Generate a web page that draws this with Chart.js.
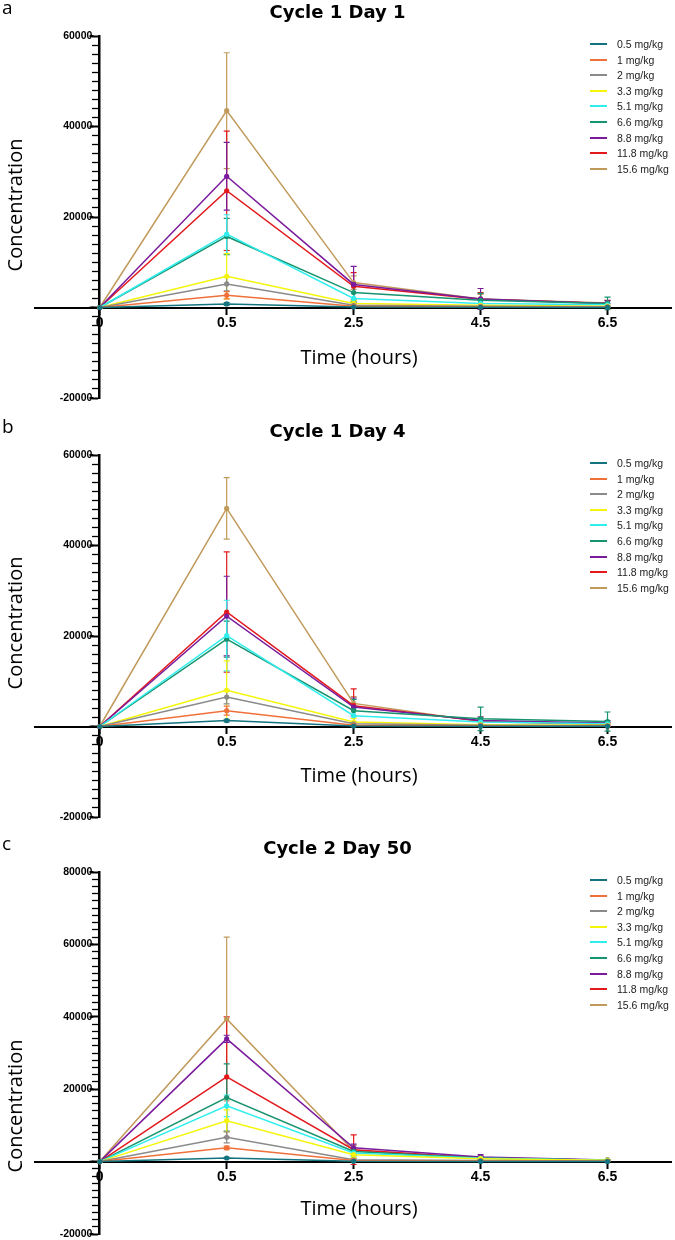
<!DOCTYPE html>
<html>
<head>
<meta charset="utf-8">
<script src="https://cdn.jsdelivr.net/npm/chart.js@4.4.1/dist/chart.umd.min.js"></script>
<style>
  html, body { margin:0; padding:0; background:#fff; overflow:hidden; }
  #wrap { position:relative; width:675px; height:1240px; overflow:hidden; background:#fff; }
  .panel { position:absolute; left:0; width:675px; height:410px; }
  .panel canvas { position:absolute; left:0; top:0; }
  .letter { position:absolute; left:2px; font:19px "Open Sans", sans-serif; line-height:19px; color:#000; }
  .title { position:absolute; left:0; width:675px; text-align:center; font:bold 18px "DejaVu Sans", sans-serif; line-height:20px; color:#000; }
  .ytitle { position:absolute; width:200px; margin-left:-100px; text-align:center; font:20px "Open Sans", sans-serif; line-height:24px; margin-top:-12px; transform:rotate(-90deg); color:#000; }
  .xtitle { position:absolute; width:200px; margin-left:-100px; text-align:center; font:20px "Open Sans", sans-serif; line-height:24px; margin-top:-12px; color:#000; }
  .legend { position:absolute; left:590px; }
  .lrow { position:absolute; left:0; height:14px; width:85px; white-space:nowrap; }
  .lline { position:absolute; left:0; top:6px; width:17px; height:2px; }
  .ltext { position:absolute; left:27px; top:0; font:10.5px "Liberation Sans", Arial, sans-serif; line-height:14px; color:#222; }
</style>
</head>
<body>
<div id="wrap"></div>
<script>
// ---------- data ----------
const times = ['0', '0.5', '2.5', '4.5', '6.5'];
const doses = ['0.5 mg/kg', '1 mg/kg', '2 mg/kg', '3.3 mg/kg', '5.1 mg/kg', '6.6 mg/kg', '8.8 mg/kg', '11.8 mg/kg', '15.6 mg/kg'];
const colors = ['#13737f', '#f0703a', '#8a8a8a', '#f5f50a', '#30eeee', '#16936f', '#7a1a9c', '#e3191c', '#c19a5b'];

// Cycle 1 Day 1 (means, then SD)
const a_05  = [0,   800,  100,   50,   20];
const a_1   = [0,  2700,  300,  150,   80];
const a_2   = [0,  5200,  500,  250,  150];
const a_33  = [0,  6900,  900,  500,  300];
const a_51  = [0, 16200, 2000,  900,  600];
const a_66  = [0, 15700, 3300, 1600,  900];
const a_88  = [0, 29000, 5100, 1900,  900];
const a_118 = [0, 25800, 4700, 1800,  900];
const a_156 = [0, 43500, 5500, 1900, 1000];
const a_sd05  = [0,   300,   50,   30,   20];
const a_sd1   = [0,   800,  150,  100,   50];
const a_sd2   = [0,  1500,  300,  150,  100];
const a_sd33  = [0,  5000,  600,  300,  200];
const a_sd51  = [0,  4300, 1200,  600,  400];
const a_sd66  = [0,  4000, 2000, 1500, 1400];
const a_sd88  = [0,  7500, 4000, 2300,  600];
const a_sd118 = [0, 13200, 3000, 1500,  700];
const a_sd156 = [0, 12800, 1500, 1000,  500];

// Cycle 1 Day 4
const b_05  = [0,  1300,  100,   50,   30];
const b_1   = [0,  3500,  300,  150,   80];
const b_2   = [0,  6500,  600,  300,  150];
const b_33  = [0,  8000, 1000,  400,  250];
const b_51  = [0, 20100, 2400, 1000,  600];
const b_66  = [0, 19300, 3500, 1700, 1100];
const b_88  = [0, 24400, 4300, 1300,  800];
const b_118 = [0, 25300, 4600, 1200,  500];
const b_156 = [0, 48200, 5100, 1100,  400];
const b_sd05  = [0,   300,   50,   30,   20];
const b_sd1   = [0,  1000,  150,   80,   50];
const b_sd2   = [0,  1500,  300,  150,  100];
const b_sd33  = [0,  6500,  800,  300,  200];
const b_sd51  = [0,  7800, 1500,  900,  500];
const b_sd66  = [0,  4000, 2500, 2600, 2100];
const b_sd88  = [0,  8800, 2000,  800,  500];
const b_sd118 = [0, 13300, 3700,  900,  400];
const b_sd156 = [0,  6800, 1500,  600,  300];

// Cycle 2 Day 50
const c_05  = [0,  1000,  100,   50,   30];
const c_1   = [0,  3800,  300,  150,   80];
const c_2   = [0,  6700,  500,  300,  150];
const c_33  = [0, 11300, 1900,  800,  400];
const c_51  = [0, 15400, 2400,  900,  400];
const c_66  = [0, 17700, 2800, 1000,  400];
const c_88  = [0, 33900, 3800, 1300,  450];
const c_118 = [0, 23400, 3300, 1000,  400];
const c_156 = [0, 39400, 3000, 1000,  400];
const c_sd05  = [0,   200,   50,   20,   10];
const c_sd1   = [0,   500,  100,   50,   30];
const c_sd2   = [0,  1500,  300,  100,   50];
const c_sd33  = [0,  3000,  800,  300,  100];
const c_sd51  = [0,  3000,  800,  300,  100];
const c_sd66  = [0,  9300, 1000,  400,  150];
const c_sd88  = [0,  1000, 1000,  600,  100];
const c_sd118 = [0, 16600, 4100,  500,  150];
const c_sd156 = [0, 22600, 1500,  400,  150];

const titles = ['Cycle 1 Day 1', 'Cycle 1 Day 4', 'Cycle 2 Day 50'];
const letters = ['a', 'b', 'c'];
const yMaxes = [60000, 60000, 80000];
const yMin = -20000;
const yMajor = 20000;
const yMinor = 2000;

// ---------- layout ----------
const panels = [
  { top: 0,   means: [a_05,a_1,a_2,a_33,a_51,a_66,a_88,a_118,a_156], sds: [a_sd05,a_sd1,a_sd2,a_sd33,a_sd51,a_sd66,a_sd88,a_sd118,a_sd156], yTitle: 205, xTitle: 357 },
  { top: 419, means: [b_05,b_1,b_2,b_33,b_51,b_66,b_88,b_118,b_156], sds: [b_sd05,b_sd1,b_sd2,b_sd33,b_sd51,b_sd66,b_sd88,b_sd118,b_sd156], yTitle: 204, xTitle: 356 },
  { top: 836, means: [c_05,c_1,c_2,c_33,c_51,c_66,c_88,c_118,c_156], sds: [c_sd05,c_sd1,c_sd2,c_sd33,c_sd51,c_sd66,c_sd88,c_sd118,c_sd156], yTitle: 270, xTitle: 372 }
];

const wrap = document.getElementById('wrap');

function makeErrorBars(sds) {
  return {
    id: 'errbars',
    beforeDatasetsDraw(chart) {
      const ctx = chart.ctx;
      const xs = chart.scales.x, ys = chart.scales.y;
      ctx.save();
      for (let i = sds.length - 1; i >= 0; i--) {
        const ds = chart.data.datasets[i];
        ctx.strokeStyle = colors[i];
        ctx.lineWidth = 1.2;
        ds.data.forEach((p, j) => {
          const sd = sds[i][j];
          if (!sd) return;
          const x = xs.getPixelForValue(p.x);
          const y1 = ys.getPixelForValue(p.y + sd);
          const y2 = ys.getPixelForValue(p.y - sd);
          ctx.beginPath();
          ctx.moveTo(x, y1); ctx.lineTo(x, y2);
          ctx.moveTo(x - 3, y1); ctx.lineTo(x + 3, y1);
          ctx.moveTo(x - 3, y2); ctx.lineTo(x + 3, y2);
          ctx.stroke();
        });
      }
      ctx.restore();
    },
    afterDraw(chart) {
      // lengthen the major y ticks a little (minor ones stay short)
      const ctx = chart.ctx;
      const xs = chart.scales.x, ys = chart.scales.y;
      const x0 = xs.getPixelForValue(0) - 1.25 - 6;
      ctx.save();
      ctx.strokeStyle = '#000';
      ctx.lineWidth = 2;
      ys.ticks.forEach(t => {
        if (t.value % yMajor !== 0) return;
        const y = ys.getPixelForValue(t.value);
        ctx.beginPath(); ctx.moveTo(x0 + 1, y); ctx.lineTo(x0 - 3, y); ctx.stroke();
      });
      ctx.restore();
    }
  };
}

panels.forEach((p, k) => {
  const div = document.createElement('div');
  div.className = 'panel';
  div.style.top = p.top + 'px';
  wrap.appendChild(div);

  const cv = document.createElement('canvas');
  cv.width = 675; cv.height = 410;
  cv.style.width = '675px'; cv.style.height = '410px';
  div.appendChild(cv);

  const letter = document.createElement('div');
  letter.className = 'letter'; letter.style.top = '-2px'; letter.textContent = letters[k];
  div.appendChild(letter);

  const title = document.createElement('div');
  title.className = 'title'; title.style.top = '2px'; title.textContent = titles[k];
  div.appendChild(title);

  const yt = document.createElement('div');
  yt.className = 'ytitle'; yt.style.left = '15px'; yt.style.top = p.yTitle + 'px'; yt.textContent = 'Concentration';
  div.appendChild(yt);

  const xt = document.createElement('div');
  xt.className = 'xtitle'; xt.style.left = '359px'; xt.style.top = p.xTitle + 'px'; xt.textContent = 'Time (hours)';
  div.appendChild(xt);

  const lg = document.createElement('div');
  lg.className = 'legend'; lg.style.top = '37px';
  doses.forEach((d, i) => {
    const row = document.createElement('div');
    row.className = 'lrow'; row.style.top = (i * 15.6) + 'px';
    const ln = document.createElement('div'); ln.className = 'lline'; ln.style.background = colors[i];
    const tx = document.createElement('div'); tx.className = 'ltext'; tx.textContent = d;
    row.appendChild(ln); row.appendChild(tx); lg.appendChild(row);
  });
  div.appendChild(lg);

  const datasets = doses.map((d, i) => ({
    label: d,
    data: p.means[i].map((v, j) => ({ x: j, y: v })),
    borderColor: colors[i],
    backgroundColor: colors[i],
    borderWidth: 1.5,
    pointRadius: 2.6,
    pointBorderWidth: 0,
    pointBackgroundColor: colors[i],
    tension: 0
  }));

  new Chart(cv, {
    type: 'line',
    data: { datasets },
    options: {
      responsive: false,
      animation: false,
      events: [],
      layout: { padding: { left: 35, right: 3, top: 36, bottom: 12 } },
      plugins: { legend: { display: false }, tooltip: { enabled: false }, title: { display: false } },
      scales: {
        x: {
          type: 'linear', min: -0.51, max: 4.5,
          position: { y: 0 },
          afterBuildTicks: (s) => { s.ticks = times.map((t, i) => ({ value: i })); },
          ticks: {
            autoSkip: false, maxRotation: 0, padding: 1,
            callback: (v) => times[v],
            color: '#000',
            font: { family: 'Liberation Sans', size: 14, weight: 'bold' }
          },
          grid: { drawOnChartArea: false, color: '#000', tickLength: 6, tickWidth: 2 },
          border: { display: true, color: '#000', width: 2 }
        },
        y: {
          type: 'linear', min: yMin, max: yMaxes[k],
          position: { x: 0 },
          ticks: {
            stepSize: yMinor, maxTicksLimit: 200, autoSkip: false,
            callback: (v) => (v % yMajor === 0 && v !== 0) ? (v + '\u2002\u2009') : '',
            color: '#000',
            font: { family: 'Liberation Sans', size: 10.5, weight: 'bold' }
          },
          grid: {
            drawOnChartArea: false, color: '#000', tickLength: 6,
            tickWidth: (c) => (c.tick && c.tick.value % yMajor === 0) ? 2 : 1.3
          },
          border: { display: true, color: '#000', width: 2.5 }
        }
      }
    },
    plugins: [makeErrorBars(p.sds)]
  });
});
</script>
</body>
</html>
